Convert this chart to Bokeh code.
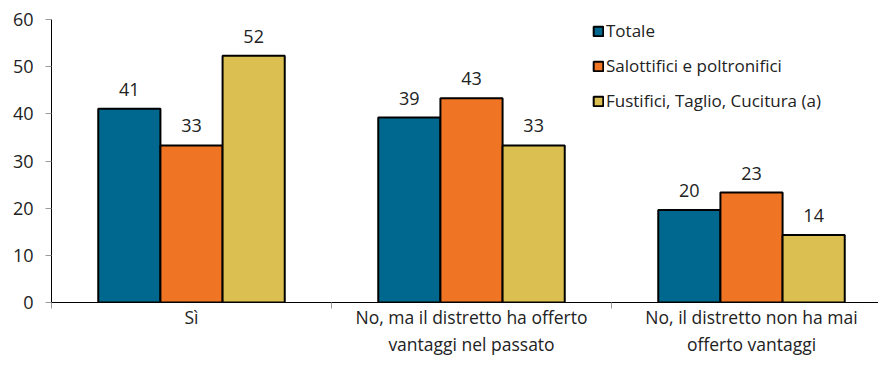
from bokeh.plotting import figure
from bokeh.models import (ColumnDataSource, Range1d, FixedTicker, LabelSet, Legend, LegendItem)
from bokeh.transform import dodge
from bokeh.core.properties import value
from bokeh.embed import file_html
from bokeh.resources import INLINE

categories = ["Sì", "No, ma il distretto ha offerto\nvantaggi nel passato", "No, il distretto non ha mai\nofferto vantaggi"]
series_names = ["Totale", "Salottifici e poltronifici", "Fustifici, Taglio, Cucitura (a)"]
totale = [41.1, 39.2, 19.6]
salottifici = [33.3, 43.3, 23.3]
fustifici = [52.3, 33.3, 14.3]
colors = ["#00688f", "#ef7524", "#dbbf50"]
y_ticks = [0, 10, 20, 30, 40, 50, 60]

FONT = "Open Sans"
TXT = "#222222"
xpos = [i + 0.5 for i in range(len(categories))]
src = ColumnDataSource(dict(
    x=xpos,
    totale=totale, salottifici=salottifici, fustifici=fustifici,
    l_tot=[f"{v:.0f}" for v in totale],
    l_sal=[f"{v:.0f}" for v in salottifici],
    l_fus=[f"{v:.0f}" for v in fustifici],
))

W, H = 878, 359
left, top, bottom = 51, 19, 50
p = figure(width=W, height=H, output_backend="svg", toolbar_location=None,
           x_range=Range1d(0, (W - left) / 280.0), y_range=Range1d(0, 60),
           min_border_left=left, min_border_right=0, min_border_top=top,
           min_border_bottom=bottom)
p.outline_line_color = None
p.xgrid.visible = False
p.ygrid.visible = False

w = 0.222
offs = [-w, 0.0, w]
fields = ["totale", "salottifici", "fustifici"]
lfields = ["l_tot", "l_sal", "l_fus"]
items = []
for f, lf, c, o, name in zip(fields, lfields, colors, offs, series_names):
    r = p.vbar(x=dodge("x", o, range=p.x_range), top=f, width=w, bottom=0,
               source=src, fill_color=c, line_color="black", line_width=2)
    items.append(LegendItem(label=name, renderers=[r]))
    lab = LabelSet(x=dodge("x", o, range=p.x_range), y=f, text=lf, source=src,
                   text_align="center", text_baseline="alphabetic", y_offset=13,
                   text_font=value(FONT), text_font_size="18px", text_color=TXT)
    p.add_layout(lab)

leg = Legend(items=items, location=(541, 190), padding=0, margin=0,
             border_line_color=None, background_fill_alpha=0,
             glyph_width=12, glyph_height=12, label_height=21, spacing=12,
             label_standoff=2, label_text_font=FONT, label_text_font_size="17px",
             label_text_color=TXT)
p.add_layout(leg)

p.yaxis.ticker = FixedTicker(ticks=y_ticks)
p.yaxis.axis_line_color = "black"
p.yaxis.major_tick_line_color = "#999999"
p.yaxis.major_tick_out = 6
p.yaxis.major_tick_in = 0
p.yaxis.minor_tick_line_color = None
p.yaxis.major_label_text_font = FONT
p.yaxis.major_label_text_font_size = "18px"
p.yaxis.major_label_text_color = TXT
p.yaxis.major_label_standoff = 12

p.xaxis.ticker = FixedTicker(ticks=xpos, minor_ticks=[0, 1, 2, 3])
p.xaxis.major_label_overrides = {x: c for x, c in zip(xpos, categories)}
p.xaxis.axis_line_color = "black"
p.xaxis.major_tick_line_color = None
p.xaxis.major_tick_out = 0
p.xaxis.major_tick_in = 0
p.xaxis.minor_tick_line_color = "#999999"
p.xaxis.minor_tick_out = 6
p.xaxis.minor_tick_in = 0
p.xaxis.major_label_text_font = FONT
p.xaxis.major_label_text_font_size = "17.5px"
p.xaxis.major_label_text_color = TXT
p.xaxis.major_label_text_line_height = 1.15
p.xaxis.major_label_standoff = -4

open("out.html", "w").write(file_html(p, INLINE))
